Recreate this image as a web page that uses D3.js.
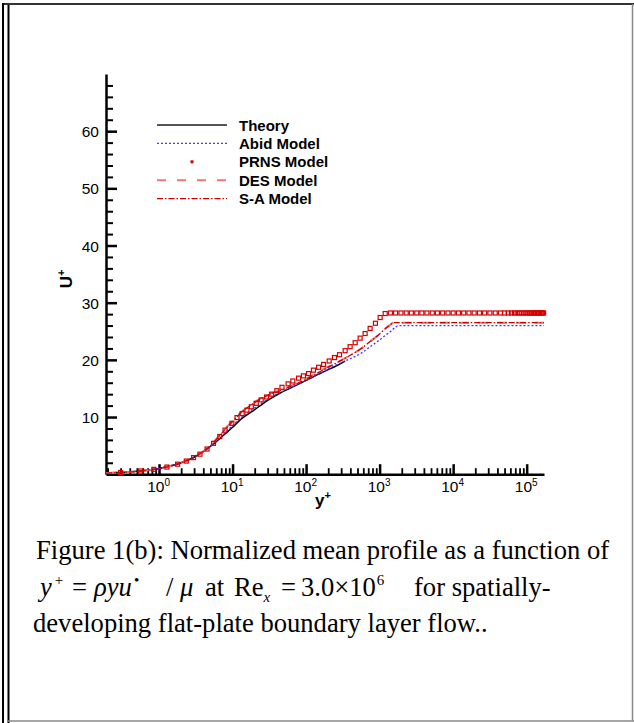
<!DOCTYPE html>
<html><head><meta charset="utf-8">
<script src="https://cdn.jsdelivr.net/npm/d3@7/dist/d3.min.js"></script>
<style>body{margin:0;background:#fff}svg{display:block}</style>
</head><body>
<svg id="c" width="634" height="723"></svg>
<script>
// ---- data (y+, U+) ----
const theory = [[0.19,0.19],[0.5,0.5],[1,1],[2,1.99],[3,2.97],[4,3.93],[5,4.87],[6,5.7],[6.8,6.3],[8,7.1],[10,8.2],[12.7,9.5],[15,10.2],[20,11.3],[23.8,12.0],[30,12.9],[44.5,14.2],[60,15.0],[83,15.9],[100,16.4],[148,17.5],[200,18.3],[236,18.7],[300,19.4],[340,19.8]];
const abid = [[0.19,0.19],[0.5,0.5],[1,1],[2,2],[3,2.97],[4,3.94],[5,4.9],[6,5.8],[7,6.6],[8,7.35],[10,8.5],[12.7,9.8],[15,10.5],[20,11.6],[30,13.1],[44.5,14.3],[60,15.1],[83,15.9],[100,16.4],[148,17.5],[236,18.9],[300,19.5],[398,20.2],[550,21.1],[743,22.3],[1000,23.5],[1200,24.3],[1390,24.9],[1600,25.6],[1800,26.0],[172000,26.0]];
const des = [[0.19,0.19],[0.5,0.5],[1,1],[2,2],[3,3],[4,4.0],[5,5.05],[6.8,6.95],[8,8.0],[10,9.3],[12.7,10.7],[15,11.5],[20,12.6],[23.8,13.2],[30,13.9],[44.5,14.7],[60,15.4],[83,16.2],[100,16.7],[148,17.9],[236,19.3],[300,19.9],[398,20.8],[550,21.9],[743,23.2],[1016,24.6],[1200,25.5],[1390,26.1],[1550,26.5],[172000,26.5]];
const sa = [[0.19,0.19],[0.5,0.5],[1,1],[2,2],[3,3],[4,3.98],[5,5.0],[6.8,6.85],[8,7.9],[10,9.2],[12.7,10.6],[15,11.4],[20,12.5],[23.8,13.1],[30,13.8],[44.5,14.6],[60,15.3],[83,16.1],[100,16.6],[148,17.8],[236,19.2],[300,19.9],[398,20.8],[550,21.9],[743,23.2],[1016,24.6],[1200,25.5],[1390,26.1],[1550,26.5],[172000,26.5]];
const prns = [[0.3,0.3],[0.56,0.56],[0.85,0.85],[1.28,1.25],[1.79,1.75],[2.35,2.3],[2.95,2.9],[3.6,3.5],[4.5,4.4],[5.5,5.4],[6.7,6.6],[7.9,7.7],[9.8,8.9],[11.5,9.9],[13.5,10.6],[15.7,11.2],[18,11.8],[21,12.4],[24.5,13.0],[29,13.5],[34,14.0],[40,14.6],[47,15.2],[57,15.8],[66,16.3],[79,16.8],[92,17.2],[108,17.6],[126,18.2],[148,18.7],[173,19.2],[206,19.8],[243,20.4],[285,20.9],[340,21.6],[397,22.3],[465,23.0],[543,23.8],[635,24.6],[743,25.5],[877,26.4],[1016,27.4],[1190,28.1],[1400,28.2],[1650,28.2],[1950,28.2],[2300,28.2],[2700,28.2],[3200,28.2],[3750,28.2],[4400,28.2],[5200,28.2],[6100,28.2],[7200,28.2],[8500,28.2],[10000,28.2],[11800,28.2],[13900,28.2],[16400,28.2],[19300,28.2],[22800,28.2],[26800,28.2],[31600,28.2],[37300,28.2],[44000,28.2],[50000,28.2],[56000,28.2],[62000,28.2],[68000,28.2],[74000,28.2],[80000,28.2],[86000,28.2],[92000,28.2],[98000,28.2],[104000,28.2],[110000,28.2],[116000,28.2],[122000,28.2],[128000,28.2],[134000,28.2],[140000,28.2],[146000,28.2],[152000,28.2],[158000,28.2],[164000,28.2],[170000,28.2]];
const yMajor = [10,20,30,40,50,60];
const yMinor = [2,4,6,8,12,14,16,18,22,24,26,28,32,34,36,38,42,44,46,48,52,54,56,58,62,64,66,68];
const xMajorExp = [0,1,2,3,4,5];
const xMinor = [0.2,0.3,0.4,0.5,0.6,0.7,0.8,0.9,2,3,4,5,6,7,8,9,20,30,40,50,60,70,80,90,200,300,400,500,600,700,800,900,2000,3000,4000,5000,6000,7000,8000,9000,20000,30000,40000,50000,60000,70000,80000,90000];
const legendNames = ["Theory","Abid Model","PRNS Model","DES Model","S-A Model"];

const svg = d3.select("#c");
const x = d3.scaleLog().domain([0.19,172000]).range([106,544]);
const y = d3.scaleLinear().domain([0,70]).range([474.2,74]);
const SANS = "Liberation Sans, Arial, sans-serif";

// frame
svg.append("line").attr("x1",3).attr("x2",634).attr("y1",4).attr("y2",4).attr("stroke","#333").attr("stroke-width",2);
svg.append("line").attr("x1",3).attr("x2",3).attr("y1",3).attr("y2",723).attr("stroke","#000").attr("stroke-width",2);
svg.append("line").attr("x1",8.5).attr("x2",8.5).attr("y1",5).attr("y2",723).attr("stroke","#000").attr("stroke-width",2);
svg.append("line").attr("x1",8).attr("x2",634).attr("y1",721).attr("y2",721).attr("stroke","#888").attr("stroke-width",1.5);
svg.append("line").attr("x1",632.5).attr("x2",632.5).attr("y1",4).attr("y2",721).attr("stroke","#888").attr("stroke-width",1.5);

// axes
const gy = svg.append("g").attr("transform","translate(106,0)");
gy.call(d3.axisLeft(y).tickValues(yMajor).tickSizeInner(-11).tickSizeOuter(0).tickPadding(7));
gy.select(".domain").attr("stroke-width",2.5);
gy.selectAll(".tick line").attr("stroke-width",2.5);
gy.selectAll(".tick text").attr("font-family",SANS).attr("font-size",15.5).attr("fill","#000").attr("dy","0.36em");
const gy2 = svg.append("g").attr("transform","translate(106,0)");
gy2.call(d3.axisLeft(y).tickValues(yMinor).tickSizeInner(-7).tickSizeOuter(0).tickFormat(""));
gy2.select(".domain").remove();
gy2.selectAll(".tick line").attr("stroke-width",2);

const gx = svg.append("g").attr("transform","translate(0,474.2)");
gx.call(d3.axisBottom(x).tickValues(xMajorExp.map(e=>Math.pow(10,e))).tickSizeInner(-10).tickSizeOuter(0).tickFormat(""));
gx.select(".domain").attr("stroke-width",2.5);
gx.selectAll(".tick line").attr("stroke-width",2.5);
gx.selectAll(".tick").each(function(d,i){
  const t = d3.select(this).append("text").attr("x",-1).attr("y",18).attr("text-anchor","middle").attr("fill","#000")
    .attr("font-family",SANS).attr("font-size",15.5);
  t.append("tspan").text("10");
  t.append("tspan").attr("dy",-6.5).attr("font-size",10).text(String(xMajorExp[i]));
});
const gx2 = svg.append("g").attr("transform","translate(0,474.2)");
gx2.call(d3.axisBottom(x).tickValues(xMinor).tickSizeInner(-6).tickSizeOuter(0).tickFormat(""));
gx2.select(".domain").remove();
gx2.selectAll(".tick line").attr("stroke-width",1.8);

// axis titles
const yt = svg.append("text").attr("transform","translate(72,279) rotate(-90)").attr("text-anchor","middle")
  .attr("font-family",SANS).attr("font-weight","bold").attr("font-size",17);
yt.append("tspan").text("U");
yt.append("tspan").attr("dy",-7).attr("font-size",11).text("+");
const xt = svg.append("text").attr("x",323).attr("y",506).attr("text-anchor","middle")
  .attr("font-family",SANS).attr("font-weight","bold").attr("font-size",17);
xt.append("tspan").text("y");
xt.append("tspan").attr("dy",-7).attr("font-size",11).text("+");

// curves
const line = d3.line().x(d=>x(d[0])).y(d=>y(d[1])).curve(d3.curveMonotoneX);
const plot = svg.append("g");
plot.append("path").datum(theory).attr("d",line).attr("fill","none").attr("stroke","#000").attr("stroke-width",1.5);
plot.append("path").datum(abid).attr("d",line).attr("fill","none").attr("stroke","#3b3bff").attr("stroke-width",1.3).attr("stroke-dasharray","2,2");
plot.append("path").datum(des).attr("d",line).attr("fill","none").attr("stroke","#f07575").attr("stroke-width",2).attr("stroke-dasharray","10,9");
plot.append("path").datum(sa).attr("d",line).attr("fill","none").attr("stroke","#c80000").attr("stroke-width",1.3).attr("stroke-dasharray","6,2,1.5,2");
plot.selectAll("rect.p").data(prns).enter().append("rect").attr("class","p")
  .attr("x",d=>x(d[0])-2).attr("y",d=>y(d[1])-2).attr("width",4).attr("height",4)
  .attr("fill","none").attr("stroke","#d40000").attr("stroke-width",1.2);

// legend
const lg = svg.append("g").attr("font-family",SANS).attr("font-weight","bold").attr("font-size",15);
const ly = [125,143.4,161.8,180.2,198.6];
lg.append("line").attr("x1",157).attr("x2",227).attr("y1",ly[0]).attr("y2",ly[0]).attr("stroke","#555").attr("stroke-width",2);
lg.append("line").attr("x1",157).attr("x2",227).attr("y1",ly[1]).attr("y2",ly[1]).attr("stroke","#3b3bff").attr("stroke-width",1.2).attr("stroke-dasharray","2,2");
lg.append("rect").attr("x",190.5).attr("y",ly[2]-1.5).attr("width",3).attr("height",3).attr("fill","#d40000");
lg.append("line").attr("x1",157).attr("x2",227).attr("y1",ly[3]).attr("y2",ly[3]).attr("stroke","#f07575").attr("stroke-width",2).attr("stroke-dasharray","9,11");
lg.append("line").attr("x1",157).attr("x2",227).attr("y1",ly[4]).attr("y2",ly[4]).attr("stroke","#c80000").attr("stroke-width",1.2).attr("stroke-dasharray","6,2,1.5,2");
legendNames.forEach((n,i)=>lg.append("text").attr("x",239).attr("y",ly[i]+5.5).text(n));

// caption
const FS = 26.6, SUP = 15;
const cap = svg.append("g").attr("font-family","Liberation Serif, Times New Roman, serif").attr("font-size",FS).attr("fill","#000");
cap.append("text").attr("x",36).attr("y",559).text("Figure 1(b): Normalized mean profile as a function of");
const l2 = cap.append("text").attr("y",596);
l2.append("tspan").attr("x",40).attr("font-style","italic").text("y");
l2.append("tspan").attr("dx",3).attr("dy",-11).attr("font-size",SUP).text("+");
l2.append("tspan").attr("x",72).attr("dy",11).text("=");
l2.append("tspan").attr("x",94).attr("font-style","italic").text("ρyu");
l2.append("tspan").attr("dx",2).attr("dy",-11).attr("font-size",SUP).text("•");
l2.append("tspan").attr("x",166).attr("dy",11).text("/");
l2.append("tspan").attr("x",180).attr("font-style","italic").text("μ");
l2.append("tspan").attr("x",205).text("at");
l2.append("tspan").attr("x",234).text("Re");
l2.append("tspan").attr("dy",6).attr("font-size",SUP).attr("font-style","italic").text("x");
l2.append("tspan").attr("x",281).attr("dy",-6).text("=");
l2.append("tspan").attr("x",301).text("3.0×10");
l2.append("tspan").attr("dx",1).attr("dy",-11).attr("font-size",SUP).text("6");
l2.append("tspan").attr("x",414).attr("dy",11).text("for spatially-");
cap.append("text").attr("x",33).attr("y",632).text("developing flat-plate boundary layer flow..");
</script>
</body></html>
